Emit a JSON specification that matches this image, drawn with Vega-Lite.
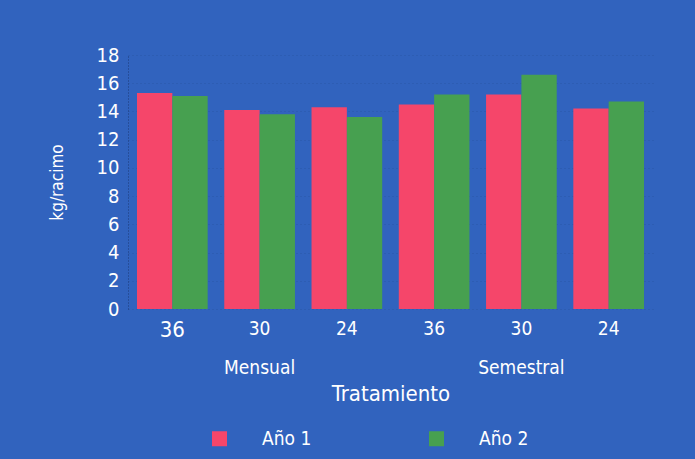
{
  "$schema": "https://vega.github.io/schema/vega-lite/v6.json",
  "autosize": {"type": "none"},
  "padding": {"left": 128, "top": 55, "right": 42, "bottom": 150},
  "width": 525,
  "height": 254,
  "background": "#3163be",
  "config": {
    "view": {"stroke": null},
    "font": "DejaVu Sans Condensed, Roboto, sans-serif",
    "axis": {"labelColor": "#ffffff", "titleColor": "#ffffff", "labelFont": "DejaVu Sans Condensed, Roboto, sans-serif", "titleFont": "DejaVu Sans Condensed, Roboto, sans-serif"},
    "legend": {"labelColor": "#ffffff", "labelFont": "DejaVu Sans Condensed, Roboto, sans-serif"}
  },
  "data": {
    "values": [
      {"grupo": "M-36", "anio": "Año 1", "kg": 15.3},
      {"grupo": "M-36", "anio": "Año 2", "kg": 15.1},
      {"grupo": "M-30", "anio": "Año 1", "kg": 14.1},
      {"grupo": "M-30", "anio": "Año 2", "kg": 13.8},
      {"grupo": "M-24", "anio": "Año 1", "kg": 14.3},
      {"grupo": "M-24", "anio": "Año 2", "kg": 13.6},
      {"grupo": "S-36", "anio": "Año 1", "kg": 14.5},
      {"grupo": "S-36", "anio": "Año 2", "kg": 15.2},
      {"grupo": "S-30", "anio": "Año 1", "kg": 15.2},
      {"grupo": "S-30", "anio": "Año 2", "kg": 16.6},
      {"grupo": "S-24", "anio": "Año 1", "kg": 14.2},
      {"grupo": "S-24", "anio": "Año 2", "kg": 14.7}
    ]
  },
  "mark": {"type": "bar"},
  "encoding": {
    "x": {
      "field": "grupo",
      "type": "nominal",
      "sort": null,
      "scale": {"paddingInner": 0.19, "paddingOuter": 0.103},
      "axis": {
        "title": "Tratamiento",
        "titleFontSize": 22,
        "titleFontWeight": "normal",
        "titleY": 84,
        "titleBaseline": "middle",
        "labelAngle": 0,
        "labelFontSize": {"condition": {"test": "datum.value == 'M-36'", "value": 22}, "value": 19},
        "labelPadding": 10,
        "labelLineHeight": 39,
        "labelExpr": "datum.value == 'M-30' ? ['30', 'Mensual'] : datum.value == 'S-30' ? ['30', 'Semestral'] : slice(datum.value, 2)",
        "domain": false,
        "ticks": false,
        "grid": false
      }
    },
    "xOffset": {"field": "anio", "type": "nominal", "scale": {"paddingInner": 0, "paddingOuter": 0}},
    "y": {
      "field": "kg",
      "type": "quantitative",
      "scale": {"domain": [0, 18], "nice": false},
      "axis": {
        "title": "kg/racimo",
        "titleFontSize": 17,
        "titleFontWeight": "normal",
        "titleX": -71,
        "titleY": 127,
        "titleAngle": -90,
        "titleAlign": "center",
        "titleBaseline": "middle",
        "values": [0, 2, 4, 6, 8, 10, 12, 14, 16, 18],
        "labelFontSize": 20,
        "labelPadding": 9,
        "ticks": false,
        "domainColor": "#1d3b78",
        "domainDash": [1, 2],
        "gridColor": "#1d3b78",
        "gridDash": [1, 3],
        "gridOpacity": 0.3
      }
    },
    "color": {
      "field": "anio",
      "type": "nominal",
      "scale": {"domain": ["Año 1", "Año 2"], "range": ["#f5466a", "#47a050"]},
      "legend": {
        "title": null,
        "orient": "none",
        "direction": "horizontal",
        "legendX": 82,
        "legendY": 374,
        "symbolType": "square",
        "symbolSize": 225,
        "symbolStrokeWidth": 0,
        "labelFontSize": 19,
        "labelOffset": 33,
        "columnPadding": 115
      }
    }
  }
}
